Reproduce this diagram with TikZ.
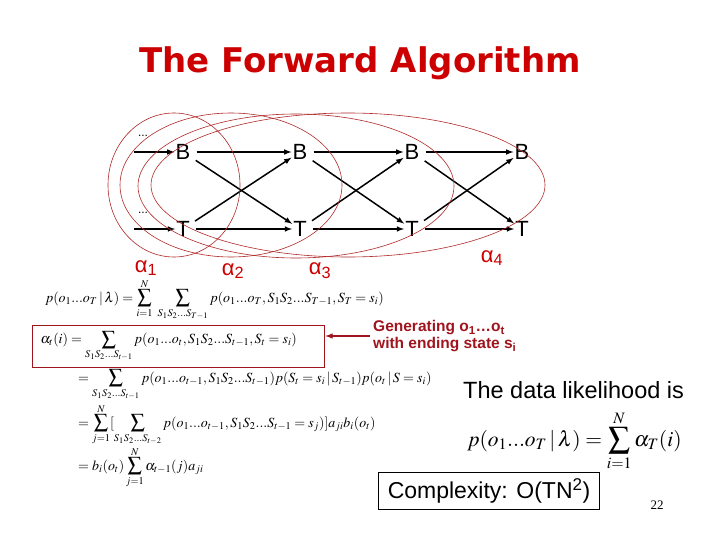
\documentclass[tikz,border=0pt]{standalone}
\usepackage{amsmath}
\usepackage{mathptmx}
\usepackage[no-math]{fontspec}
\setmainfont{Liberation Serif}
\setsansfont{Liberation Sans}
\newfontfamily\titlefont{DejaVu Sans}
\usetikzlibrary{arrows}
\definecolor{slidered}{RGB}{204,0,0}
\definecolor{darkred}{RGB}{160,20,30}
\definecolor{ringred}{RGB}{175,40,40}
\newcommand{\fsz}[1]{\fontsize{#1}{#1}\selectfont}

\tikzset{
  state/.style={font=\sffamily\fsz{22}, inner sep=1pt},
  trans/.style={-latex, line width=1.5pt, shorten <=5pt},
  ring/.style={ringred, line width=0.6pt},
  alphalbl/.style={font=\sffamily\fsz{22}, text=slidered},
  eqn/.style={font=\fsz{14}, anchor=base west, inner sep=0pt},
}

\begin{document}
\begin{tikzpicture}[x=1pt,y=-1pt]
    \useasboundingbox (0,0) rectangle (720,540);
    % --- TITLE ---
    \node[font=\titlefont\bfseries\fsz{34}, text=slidered] (title) at (360,63) {The Forward Algorithm};

    % --- TRELLIS ---
	\node[state] (B1) at (183,152) {B};
	\node[state] (B2) at (300,152) {B};
	\node[state] (B3) at (412,152) {B};
	\node[state] (B4) at (522,152) {B};
	\node[state] (T1) at (183,229) {T};
	\node[state] (T2) at (300,229) {T};
	\node[state] (T3) at (412,229) {T};
	\node[state] (T4) at (522,229) {T};
	\coordinate (inB) at (134,152);
	\coordinate (inT) at (134,229);
	\node[font=\sffamily\fsz{12}] (dotsB) at (143,136) {...};
	\node[font=\sffamily\fsz{12}] (dotsT) at (143,213) {...};
	\draw[-latex, line width=1.5pt] (inB) -- (B1);
	\draw[-latex, line width=1.5pt] (inT) -- (T1);
	\draw[trans] (B1) -- (B2);
	\draw[trans] (B1) -- (T2);
	\draw[trans] (T1) -- (B2);
	\draw[trans] (T1) -- (T2);
	\draw[trans] (B2) -- (B3);
	\draw[trans] (B2) -- (T3);
	\draw[trans] (T2) -- (B3);
	\draw[trans] (T2) -- (T3);
	\draw[trans] (B3) -- (B4);
	\draw[trans] (B3) -- (T4);
	\draw[trans] (T3) -- (B4);
	\draw[trans] (T3) -- (T4);
	% alpha rings
	\draw[ring] (174,185) ellipse [x radius=66, y radius=72];
	\draw[ring] (231,185) ellipse [x radius=111, y radius=72];
	\draw[ring] (296,186) ellipse [x radius=158, y radius=72];
	\draw[ring] (348,185) ellipse [x radius=197, y radius=72];
	\node[alphalbl] (a1) at (146,268) {α\textsubscript{1}};
	\node[alphalbl] (a2) at (233,271) {α\textsubscript{2}};
	\node[alphalbl] (a3) at (320,271) {α\textsubscript{3}};
	\node[alphalbl] (a4) at (492,258) {α\textsubscript{4}};

    % --- DERIVATION ---
	\node[eqn] (eq1) at (45,302) {$\displaystyle p(o_1...o_T\,|\,\lambda)=\sum_{i=1}^{N}\ \sum_{S_1S_2...S_{T-1}} p(o_1...o_T,S_1S_2...S_{T-1},S_T=s_i)$};
	\node[draw=darkred, line width=1.3pt, anchor=north west, text width=276pt, inner xsep=8pt, minimum height=42pt, font=\fsz{14}] (eqbox) at (32,325) {$\displaystyle \alpha_t(i)=\sum_{S_1S_2...S_{t-1}} p(o_1...o_t,S_1S_2...S_{t-1},S_t=s_i)$};
	\node[eqn] (eq3) at (78,382) {$\displaystyle =\sum_{S_1S_2...S_{t-1}} p(o_1...o_{t-1},S_1S_2...S_{t-1})p(S_t=s_i\,|\,S_{t-1})p(o_t\,|\,S=s_i)$};
	\node[eqn] (eq4) at (78,427) {$\displaystyle =\sum_{j=1}^{N}[\sum_{S_1S_2...S_{t-2}} p(o_1...o_{t-1},S_1S_2...S_{t-1}=s_j)]a_{ji}b_i(o_t)$};
	\node[eqn] (eq5) at (78,470) {$\displaystyle =b_i(o_t)\sum_{j=1}^{N}\alpha_{t-1}(j)a_{ji}$};
	\node[font=\sffamily\bfseries\fsz{15.5}, text=darkred, align=left, anchor=west, inner sep=0pt] (gen) at (373,336) {Generating o\textsubscript{1}\ldots o\textsubscript{t}\\[1pt]with ending state s\textsubscript{i}};
	\draw[-latex, darkred, line width=1.5pt] ([xshift=-3pt]gen.west) -- (gen.west -| eqbox.east);

    % --- LIKELIHOOD ---
	\node[font=\sffamily\fsz{23.5}, anchor=base west, inner sep=0pt] (like) at (463,398) {The data likelihood is};
	\node[font=\fsz{21.5}, anchor=base west, inner sep=0pt] (likeeq) at (467,446) {$\displaystyle p(o_1...o_T\,|\,\lambda)=\sum_{i=1}^{N}\alpha_T(i)$};
	\node[draw, line width=0.8pt, font=\sffamily\fsz{23}, minimum width=221pt, minimum height=37pt] (cplx) at (489,491) {Complexity: O(TN\textsuperscript{2})};
	\node[font=\fsz{13}] (pg) at (657,505) {22};
\end{tikzpicture}
\end{document}
